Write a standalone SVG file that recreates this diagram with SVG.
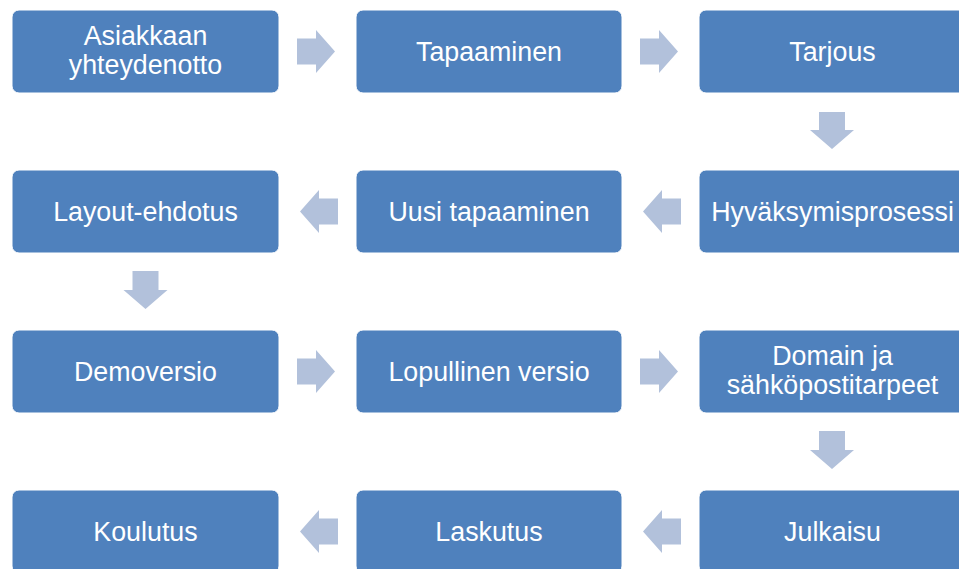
<svg xmlns="http://www.w3.org/2000/svg" width="959" height="569" viewBox="0 0 959 569">
<style>
.box{fill:#4F81BD;stroke:#FFFFFF;stroke-width:1}
.arr{fill:#B2C1DB}
.t{font-family:"Liberation Sans",Arial,sans-serif;font-size:26.8px;fill:#FFFFFF;text-anchor:middle}
</style>
<rect width="959" height="569" fill="#FFFFFF"/>
<g id="connectors">
<polygon class="arr" points="297,38.5 316,38.5 316,30 335,51.5 316,73 316,64.5 297,64.5"/>
<polygon class="arr" points="640,38.5 659,38.5 659,30 678,51.5 659,73 659,64.5 640,64.5"/>
<polygon class="arr" points="819,112 845,112 845,130 854,130 832,149 810,130 819,130"/>
<polygon class="arr" points="681,198.5 662,198.5 662,190 643,211.5 662,233 662,224.5 681,224.5"/>
<polygon class="arr" points="338,198.5 319,198.5 319,190 300,211.5 319,233 319,224.5 338,224.5"/>
<polygon class="arr" points="132.5,271 158.5,271 158.5,290 167.5,290 145.5,309 123.5,290 132.5,290"/>
<polygon class="arr" points="297,358.5 316,358.5 316,350 335,371.5 316,393 316,384.5 297,384.5"/>
<polygon class="arr" points="640,358.5 659,358.5 659,350 678,371.5 659,393 659,384.5 640,384.5"/>
<polygon class="arr" points="819,431 845,431 845,450 854,450 832,469 810,450 819,450"/>
<polygon class="arr" points="681,518.5 662,518.5 662,510 643,531.5 662,553 662,544.5 681,544.5"/>
<polygon class="arr" points="338,518.5 319,518.5 319,510 300,531.5 319,553 319,544.5 338,544.5"/>
</g>
<g id="n1"><rect class="box" x="12" y="10" width="267" height="83" rx="7"/><text class="t" x="145.5" y="45">Asiakkaan</text><text class="t" x="145.5" y="74">yhteydenotto</text></g>
<g id="n2"><rect class="box" x="356" y="10" width="266" height="83" rx="7"/><text class="t" x="489" y="60.5">Tapaaminen</text></g>
<g id="n3"><rect class="box" x="699" y="10" width="267" height="83" rx="7"/><text class="t" x="832.5" y="60.5">Tarjous</text></g>
<g id="n4"><rect class="box" x="699" y="170" width="267" height="83" rx="7"/><text class="t" x="832.5" y="220.5">Hyväksymisprosessi</text></g>
<g id="n5"><rect class="box" x="356" y="170" width="266" height="83" rx="7"/><text class="t" x="489" y="220.5">Uusi tapaaminen</text></g>
<g id="n6"><rect class="box" x="12" y="170" width="267" height="83" rx="7"/><text class="t" x="145.5" y="220.5">Layout-ehdotus</text></g>
<g id="n7"><rect class="box" x="12" y="330" width="267" height="83" rx="7"/><text class="t" x="145.5" y="380.5">Demoversio</text></g>
<g id="n8"><rect class="box" x="356" y="330" width="266" height="83" rx="7"/><text class="t" x="489" y="380.5">Lopullinen versio</text></g>
<g id="n9"><rect class="box" x="699" y="330" width="267" height="83" rx="7"/><text class="t" x="832.5" y="365">Domain ja</text><text class="t" x="832.5" y="394">sähköpostitarpeet</text></g>
<g id="n10"><rect class="box" x="699" y="490" width="267" height="83" rx="7"/><text class="t" x="832.5" y="540.5">Julkaisu</text></g>
<g id="n11"><rect class="box" x="356" y="490" width="266" height="83" rx="7"/><text class="t" x="489" y="540.5">Laskutus</text></g>
<g id="n12"><rect class="box" x="12" y="490" width="267" height="83" rx="7"/><text class="t" x="145.5" y="540.5">Koulutus</text></g>
</svg>
